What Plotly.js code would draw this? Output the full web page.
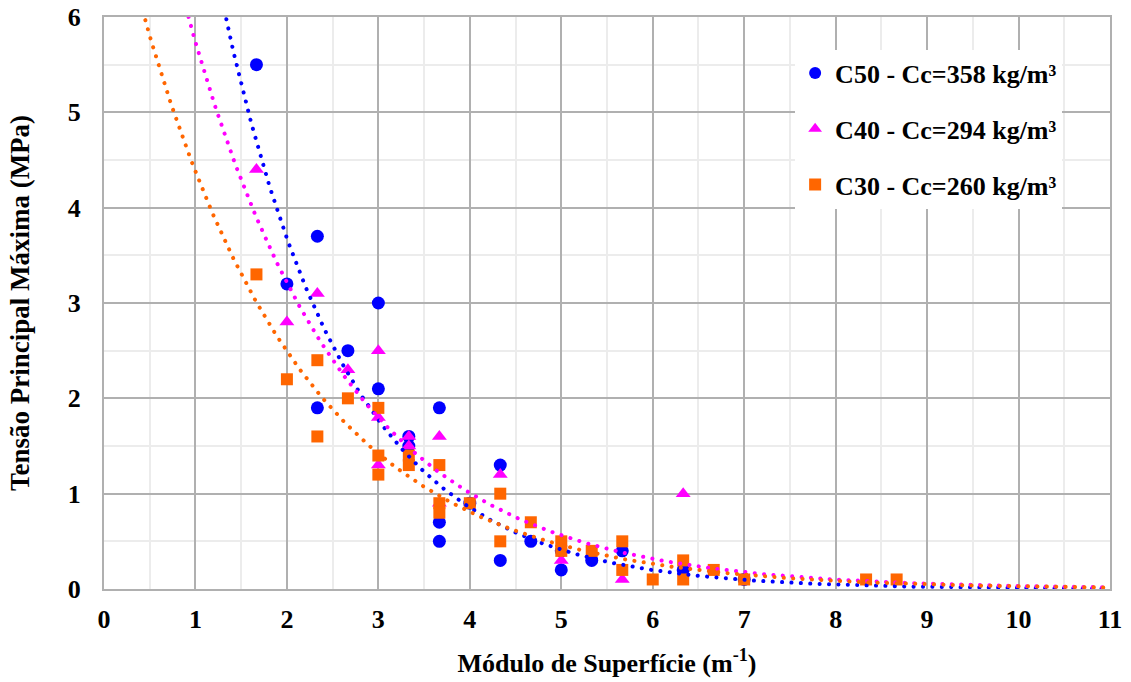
<!DOCTYPE html>
<html>
<head>
<meta charset="utf-8">
<script src="https://cdn.plot.ly/plotly-3.0.1.min.js"></script>
<style>
  html, body { margin: 0; padding: 0; background: #fff; }
  #chart { width: 1131px; height: 682px; }
  .js-line { stroke-linecap: round; }
</style>
</head>
<body>
<div id="chart"></div>
<script>
// ---- data ----
const c50X = [1.667, 2, 2.333, 2.333, 2.667, 3, 3, 3.333, 3.333, 3.667, 3.667, 3.667, 4, 4.333, 4.333, 4.667, 5, 5, 5.333, 5.667, 6.333, 7];
const c50Y = [5.5, 3.2, 3.7, 1.9, 2.5, 3.0, 2.1, 1.6, 1.5, 1.9, 0.7, 0.5, 0.9, 1.3, 0.3, 0.5, 0.4, 0.2, 0.3, 0.4, 0.2, 0.1];

const c40X = [1.667, 2, 2.333, 2.667, 3, 3, 3, 3.333, 3.333, 3.667, 3.667, 4.333, 5, 5.667, 6.333];
const c40Y = [4.4, 2.8, 3.1, 2.3, 2.5, 1.8, 1.3, 1.6, 1.5, 1.6, 0.9, 1.2, 0.3, 0.1, 1.0];

const c30X = [1.667, 2, 2.333, 2.333, 2.667, 3, 3, 3, 3.333, 3.333, 3.667, 3.667, 3.667, 4, 4.333, 4.333, 4.667, 5, 5, 5.333, 5.667, 5.667, 6, 6.333, 6.333, 6.667, 7, 8.333, 8.667];
const c30Y = [3.3, 2.2, 2.4, 1.6, 2.0, 1.9, 1.4, 1.2, 1.4, 1.3, 1.3, 0.9, 0.8, 0.9, 1.0, 0.5, 0.7, 0.5, 0.4, 0.4, 0.5, 0.2, 0.1, 0.3, 0.1, 0.2, 0.1, 0.1, 0.1];

const seriesNames = ['C50 - Cc=358 kg/m³', 'C40 - Cc=294 kg/m³', 'C30 - Cc=260 kg/m³'];
const seriesColors = ['#0000FF', '#FF00FF', '#FF6600'];
const seriesSymbols = ['circle', 'triangle-up', 'square'];
const xRange = [0, 11];
const yRange = [0, 6];

// exponential trendline (least squares on ln y), like a spreadsheet trendline
function expFit(xs, ys) {
  const n = xs.length;
  let sx = 0, sy = 0, sxx = 0, sxy = 0;
  for (let i = 0; i < n; i++) {
    const ly = Math.log(ys[i]);
    sx += xs[i]; sy += ly; sxx += xs[i]*xs[i]; sxy += xs[i]*ly;
  }
  const b = (n*sxy - sx*sy) / (n*sxx - sx*sx);
  const a = Math.exp((sy - b*sx)/n);
  return {a, b};
}
function trendCurve(xs, ys) {
  const f = expFit(xs, ys);
  const tx = [], ty = [];
  for (let k = 0; k <= 440; k++) {
    const x = k * 0.025;
    tx.push(x); ty.push(f.a * Math.exp(f.b * x));
  }
  return {tx, ty};
}

const xsAll = [c50X, c40X, c30X];
const ysAll = [c50Y, c40Y, c30Y];

const FAM = 'Liberation Serif';
const tickFont = {family: FAM, size: 26, weight: 700, color: '#000000'};

const traces = [];
for (let s = 0; s < 3; s++) {
  traces.push({
    type: 'scatter', mode: 'markers',
    x: xsAll[s], y: ysAll[s],
    name: seriesNames[s], legendgroup: 'g' + s,
    marker: {color: seriesColors[s], symbol: seriesSymbols[s], size: s === 2 ? 12 : 13, line: {width: 0}}
  });
}
for (let s = 0; s < 3; s++) {
  const c = trendCurve(xsAll[s], ysAll[s]);
  traces.push({
    type: 'scatter', mode: 'lines',
    x: c.tx, y: c.ty,
    showlegend: false, hoverinfo: 'skip',
    line: {color: seriesColors[s], width: 4, dash: '0.1px,9.3px'}
  });
}

const layout = {
  width: 1131, height: 682,
  margin: {l: 104, r: 21, t: 17, b: 93},
  paper_bgcolor: '#fff', plot_bgcolor: '#fff',
  showlegend: true,
  font: {family: FAM, color: '#000', size: 26, weight: 700},
  xaxis: {
    range: xRange, dtick: 1, tick0: 0,
    showgrid: true, gridcolor: '#b0b0b0', gridwidth: 2,
    minor: {dtick: 0.5, showgrid: true, gridcolor: '#ececec', gridwidth: 2},
    showline: true, linecolor: '#b0b0b0', linewidth: 2, mirror: true,
    zeroline: false, ticks: '', ticklabelstandoff: 6,
    tickfont: tickFont,
    title: {text: 'Módulo de Superfície (m<sup>-1</sup>)', standoff: 21,
            font: {family: FAM, size: 26, weight: 700, color: '#000'}}
  },
  yaxis: {
    range: yRange, dtick: 1, tick0: 0,
    showgrid: true, gridcolor: '#b0b0b0', gridwidth: 2,
    minor: {dtick: 0.5, showgrid: true, gridcolor: '#ececec', gridwidth: 2},
    showline: true, linecolor: '#b0b0b0', linewidth: 2, mirror: true,
    zeroline: false, ticks: '', ticklabelstandoff: 16,
    tickfont: tickFont,
    title: {text: 'Tensão Principal Máxima (MPa)', standoff: 30,
            font: {family: FAM, size: 27, weight: 700, color: '#000'}}
  },
  legend: {
    x: 0.687, y: 0.943, xanchor: 'left', yanchor: 'top',
    bgcolor: '#fff', borderwidth: 0,
    traceorder: 'grouped', tracegroupgap: 19,
    font: {family: FAM, size: 26, weight: 700, color: '#000'},
    itemsizing: 'constant'
  }
};

Plotly.newPlot('chart', traces, layout, {displayModeBar: false, staticPlot: true});
</script>
</body>
</html>
